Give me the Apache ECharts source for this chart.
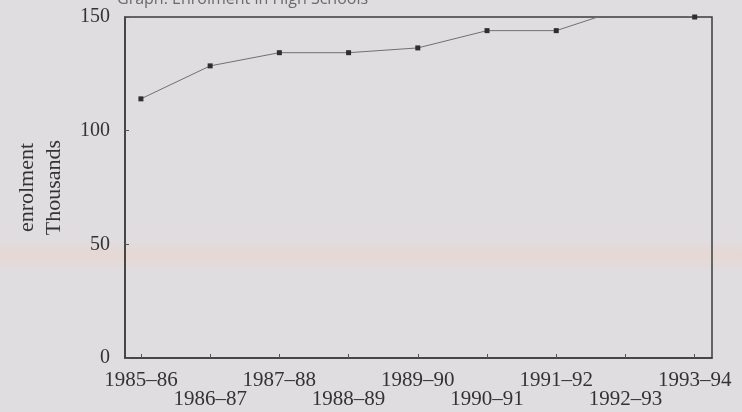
<!DOCTYPE html>
<html>
<head>
<meta charset="utf-8">
<script src="https://cdn.jsdelivr.net/npm/echarts@6/dist/echarts.min.js"></script>
<style>
html,body{margin:0;padding:0;background:#e0dde0;}
#c{width:742px;height:412px;}
</style>
</head>
<body>
<div id="c"></div>
<script>
var categories = ['1985–86','1986–87','1987–88','1988–89','1989–90','1990–91','1991–92','1992–93','1993–94'];
var enrolment = [114, 128.5, 134.3, 134.3, 136.4, 144, 144, 154, 150];
var yTicks = [0, 50, 100, 150];
var titleText = 'Graph: Enrolment in High Schools';

var chart = echarts.init(document.getElementById('c'));
var idx = categories.map(function(_, i){ return i; });
var evenIdx = idx.filter(function(i){ return i % 2 === 0; });
var oddIdx = idx.filter(function(i){ return i % 2 === 1; });
var seriesData = enrolment.map(function(v, i){ return [i, v]; });

var labelFont = {fontFamily: 'Liberation Serif', fontSize: 21, color: '#333'};
function xLabel(v){ return categories[Math.round(v)]; }

chart.setOption({
  backgroundColor: '#e0dde0',
  animation: false,
  graphic: [
    {
      type: 'rect', z: -10, silent: true,
      shape: {x: 0, y: 238, width: 742, height: 34},
      style: {fill: new echarts.graphic.LinearGradient(0,0,0,1,[
        {offset:0,color:'rgba(240,205,190,0)'},
        {offset:0.5,color:'rgba(240,205,190,0.35)'},
        {offset:1,color:'rgba(240,205,190,0)'}])}
    },
    {
      type: 'text', left: 117, top: -9, silent: true,
      style: {text: titleText, fill: '#6a6a6a', font: '16px "Open Sans", sans-serif'}
    }
  ],
  grid: {left: 125, right: 30, top: 17, bottom: 54, outerBoundsMode: 'none', containLabel: false,
    show: true, borderColor: '#3c3c3c', borderWidth: 1.5, backgroundColor: 'transparent'},
  xAxis: [{
    type: 'value', min: -0.23, max: 8.25, position: 'bottom',
    axisLine: {show: true, onZero: false, lineStyle: {color: '#3c3c3c', width: 1.5}},
    splitLine: {show: false},
    axisTick: {show: true, inside: true, length: 4, customValues: idx, lineStyle: {color: '#555'}},
    axisLabel: Object.assign({customValues: evenIdx, margin: 12, showMinLabel: true, showMaxLabel: true,
      hideOverlap: false, formatter: xLabel}, labelFont)
  }, {
    type: 'value', min: -0.23, max: 8.25, position: 'bottom',
    axisLine: {show: false, onZero: false},
    splitLine: {show: false},
    axisTick: {show: false},
    axisLabel: Object.assign({customValues: oddIdx, margin: 31, showMinLabel: true, showMaxLabel: true,
      hideOverlap: false, formatter: xLabel}, labelFont)
  }],
  yAxis: {
    type: 'value', min: 0, max: 150,
    name: 'enrolment\nThousands', nameLocation: 'middle', nameRotate: 90, nameGap: 57,
    nameTextStyle: {fontFamily: 'Liberation Serif', fontSize: 22, color: '#333', lineHeight: 27},
    axisLine: {show: true, onZero: false, lineStyle: {color: '#3c3c3c', width: 1.5}},
    splitLine: {show: false},
    axisTick: {show: true, inside: true, length: 4, customValues: yTicks, lineStyle: {color: '#555'}},
    axisLabel: {customValues: yTicks, margin: 15, showMinLabel: true, showMaxLabel: true,
      fontFamily: 'Liberation Serif', fontSize: 20, color: '#333'}
  },
  series: [{
    type: 'line', data: seriesData, clip: true, xAxisIndex: 0,
    symbol: 'rect', symbolSize: 5, showAllSymbol: true,
    lineStyle: {color: '#707070', width: 1},
    itemStyle: {color: '#2e2e2e'}
  }]
});
</script>
</body>
</html>
